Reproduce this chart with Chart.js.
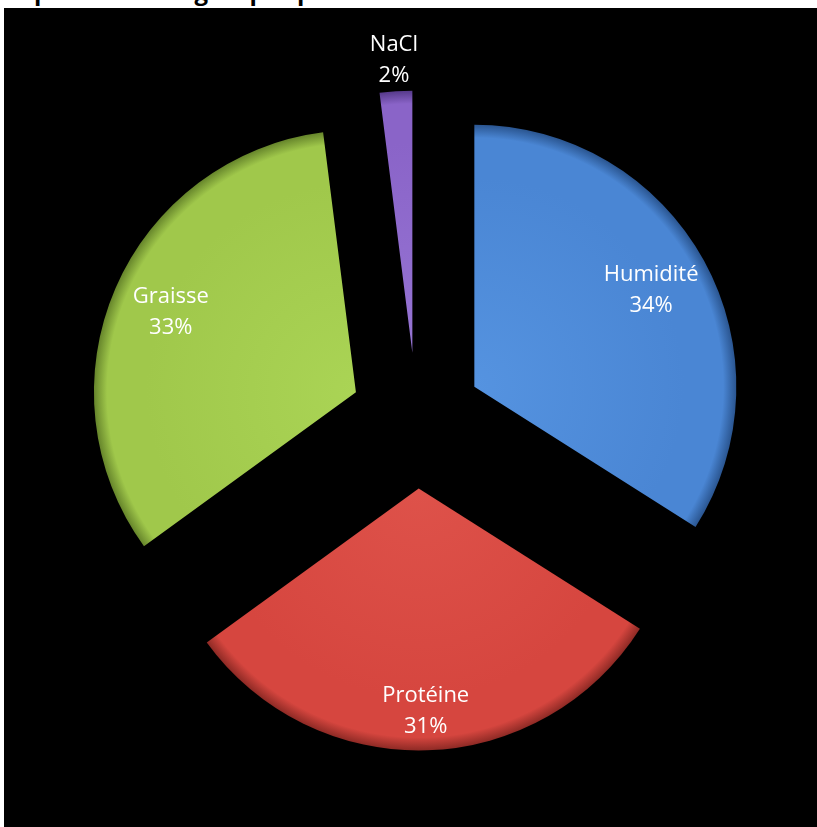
<!DOCTYPE html>
<html>
<head>
<meta charset="utf-8">
<script src="https://cdn.jsdelivr.net/npm/chart.js@4/dist/chart.umd.min.js"></script>
<style>
	html, body { margin: 0; padding: 0; background: #fff; }
	body { width: 817px; height: 827px; position: relative; overflow: hidden; font-family: "Open Sans", sans-serif; }
	#title { position: absolute; left: 4px; top: -22px; font-weight: bold; font-size: 24px; line-height: 26px; white-space: nowrap; color: #000; }
	#box { position: absolute; left: 4px; top: 8px; width: 813px; height: 819px; background: #000; }
</style>
</head>
<body>
<div id="title">Répartition des groupes présents</div>
<div id="box"><canvas id="pieChart" width="813" height="819"></canvas></div>
<script>
let categories = ['Humidité', 'Protéine', 'Graisse', 'NaCl'];
let values = [34, 31, 33, 2];

// look of each slice
let baseColors = ['#4a86d4', '#d6463f', '#a0c84b', '#8a64c8'];
let lightColors = ['#5593e0', '#de524a', '#aad455', '#9674d4'];
let darkColors = ['#2a5590', '#8e2a25', '#66852b', '#56398a'];
let explode = [66, 70, 66, 66];        // px each slice is pulled out
let labelRadius = [0.77, 0.85, 0.77, 1.12];
let pieRadius = 262;

let total = values.reduce((a, b) => a + b, 0);

// middle angle of slice i, chart.js convention, starting at 12 o'clock
let midAngle = function (i) {
	let before = 0;
	for (let k = 0; k < i; k++) before += values[k];
	return -Math.PI / 2 + (before + values[i] / 2) / total * 2 * Math.PI;
};

let explodePlugin = {
	id: 'explodeSlices',
	afterDatasetUpdate: function (chart, args) {
		args.meta.data.forEach(function (arc, i) {
			let a = midAngle(i);
			arc.x += Math.cos(a) * explode[i];
			arc.y += Math.sin(a) * explode[i];
		});
	}
};

let labelPlugin = {
	id: 'sliceLabels',
	afterDatasetsDraw: function (chart) {
		let c = chart.ctx;
		let meta = chart.getDatasetMeta(0);
		c.save();
		c.fillStyle = '#fff';
		c.font = '22px "Open Sans"';
		c.textAlign = 'center';
		c.textBaseline = 'middle';
		meta.data.forEach(function (arc, i) {
			let a = midAngle(i);
			let r = arc.outerRadius * labelRadius[i];
			let x = arc.x + Math.cos(a) * r;
			let y = arc.y + Math.sin(a) * r;
			c.fillText(categories[i], x, y - 15);
			c.fillText(Math.round(values[i] / total * 100) + '%', x, y + 16);
		});
		c.restore();
	}
};

let chart = new Chart("pieChart", {
	type: "pie",
	data: {
		labels: categories,
		datasets: [{
			data: values,
			borderWidth: 0,
			backgroundColor: function (ctx) {
				let area = ctx.chart.chartArea;
				let i = ctx.dataIndex;
				if (!area) return baseColors[i];
				let a = midAngle(i);
				let cx = (area.left + area.right) / 2 + Math.cos(a) * explode[i];
				let cy = (area.top + area.bottom) / 2 + Math.sin(a) * explode[i];
				let g = ctx.chart.ctx.createRadialGradient(cx, cy, 0, cx, cy, pieRadius);
				g.addColorStop(0, lightColors[i]);
				g.addColorStop(0.8, baseColors[i]);
				g.addColorStop(0.95, baseColors[i]);
				g.addColorStop(1, darkColors[i]);
				return g;
			}
		}]
	},
	options: {
		responsive: false,
		animation: false,
		radius: pieRadius,
		layout: { padding: { left: 12, right: 0, top: 2, bottom: 0 } },
		plugins: {
			legend: { display: false },
			tooltip: { enabled: false },
			title: { display: false }
		}
	},
	plugins: [explodePlugin, labelPlugin]
});
</script>
</body>
</html>
